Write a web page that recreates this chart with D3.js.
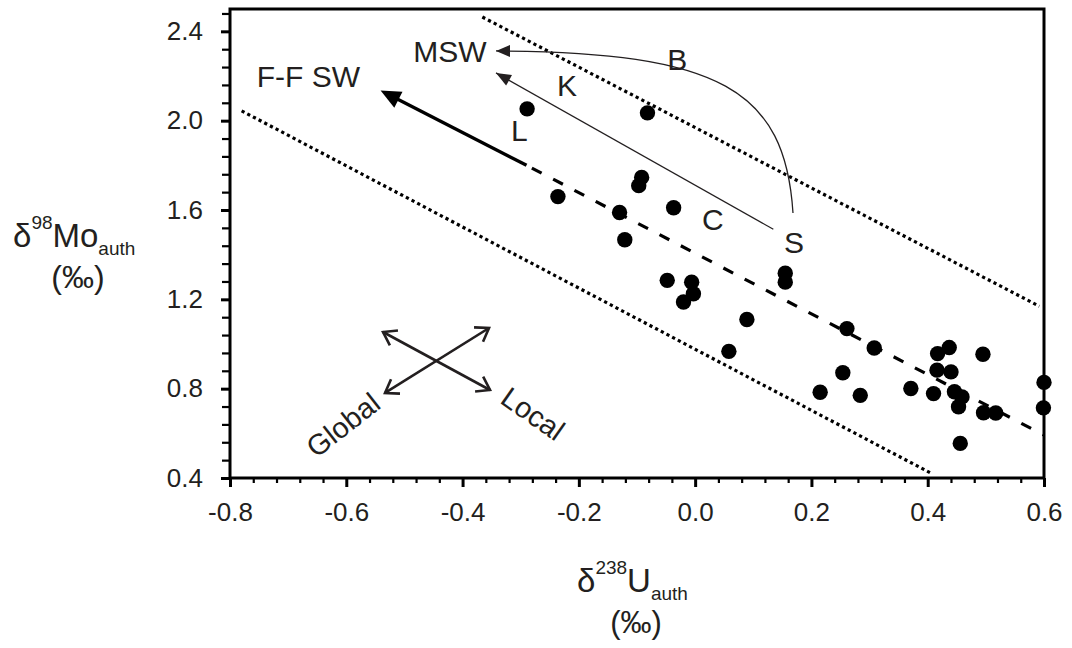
<!DOCTYPE html>
<html><head><meta charset="utf-8">
<script src="https://cdn.jsdelivr.net/npm/d3@7"></script>
<style>
body{margin:0;background:#fff}
svg text{font-family:"Liberation Sans",Arial,sans-serif;fill:#231f20}
</style>
</head><body>
<svg id="chart" width="1072" height="648"></svg>
<script>
// ---- data ----
const uAuth  = [-0.289,-0.082,-0.092,-0.097,-0.236,-0.037,-0.130,-0.121,-0.048,-0.006,-0.003,-0.020,
                0.155,0.155,0.089,0.058,0.261,0.308,0.254,0.215,0.284,0.371,0.410,0.417,0.437,0.416,
                0.440,0.446,0.459,0.453,0.495,0.496,0.517,0.456,0.600,0.599];
const moAuth = [2.053,2.035,1.746,1.709,1.660,1.610,1.589,1.467,1.285,1.277,1.225,1.188,
                1.317,1.277,1.110,0.967,1.069,0.982,0.871,0.784,0.770,0.801,0.778,0.957,0.984,0.883,
                0.875,0.786,0.763,0.719,0.954,0.692,0.691,0.555,0.828,0.714];
const xTicks = [-0.8,-0.6,-0.4,-0.2,0.0,0.2,0.4,0.6];
const xTickLabels = ["-0.8","-0.6","-0.4","-0.2","0.0","0.2","0.4","0.6"];
const yTicks = [0.4,0.8,1.2,1.6,2.0,2.4];
const yTickLabels = ["0.4","0.8","1.2","1.6","2.0","2.4"];
// trend (dashed) and F-F SW arrow
const trendU = [-0.29, 0.60];
const trendMo = [1.80, 0.592];
const ffswU = [-0.29, -0.541];
const ffswMo = [1.80, 2.135];
// bounding dotted lines
const upperU = [-0.366, 0.592];
const upperMo = [2.464, 1.169];
const lowerU = [-0.78, 0.406];
const lowerMo = [2.044, 0.421];
// K arrow (S -> K)
const kU = [0.1345, -0.3425];
const kMo = [1.5137, 2.2137];
// B curve (S -> MSW), cubic bezier control points
const bU = [0.1683, 0.1546, 0.0428, -0.3425];
const bMo = [1.5868, 2.1376, 2.3078, 2.3122];
// Global / Local double arrows
const globalU = [-0.5334, -0.3545];
const globalMo = [0.7807, 1.0717];
const localU = [-0.5368, -0.3528];
const localMo = [1.0538, 0.7941];
// annotation labels
const labelText = ["F-F SW","MSW","B","K","L","C","S"];
const labelU = [-0.754,-0.485,-0.048,-0.2376,-0.3167,0.0118,0.1529];
const labelMo = [2.150,2.263,2.227,2.111,1.909,1.511,1.4076];

// ---- scales ----
const svg = d3.select("#chart");
const x = d3.scaleLinear().domain([-0.8,0.6]).range([230,1044]);
const y = d3.scaleLinear().domain([0.4,2.5]).range([478,9]);
const ink = "#000";

// minor ticks
const xMinor = d3.range(0,36).map(i=>+(-0.8+i*0.04).toFixed(2)).filter(v=>!xTicks.some(t=>Math.abs(t-v)<1e-6));
const yMinor = d3.range(0,27).map(i=>+(0.4+i*0.08).toFixed(2)).filter(v=>v<=2.5 && !yTicks.some(t=>Math.abs(t-v)<1e-6));

const gxMinor = svg.append("g").attr("transform","translate(0,478)")
  .call(d3.axisBottom(x).tickValues(xMinor).tickSize(5).tickFormat(""));
const gx = svg.append("g").attr("transform","translate(0,478)")
  .call(d3.axisBottom(x).tickValues(xTicks).tickSize(9).tickPadding(16).tickFormat((d,i)=>xTickLabels[i]));
const gyMinor = svg.append("g").attr("transform","translate(230,0)")
  .call(d3.axisLeft(y).tickValues(yMinor).tickSize(8).tickFormat(""));
const gy = svg.append("g").attr("transform","translate(230,0)")
  .call(d3.axisLeft(y).tickValues(yTicks).tickSize(9).tickPadding(18).tickFormat((d,i)=>yTickLabels[i]));
[gx,gy,gxMinor,gyMinor].forEach(g=>{g.select(".domain").remove();});
[gxMinor,gyMinor].forEach(g=>g.selectAll(".tick line").attr("stroke",ink).attr("stroke-width",2.2));
[gx,gy].forEach(g=>{
  g.selectAll(".tick line").attr("stroke",ink).attr("stroke-width",3);
  g.selectAll(".tick text").attr("font-size",26).attr("fill","#231f20")
    .attr("font-family","'Liberation Sans',Arial,sans-serif");
});

// frame
svg.append("rect").attr("x",x(-0.8)).attr("y",y(2.5))
  .attr("width",x(0.6)-x(-0.8)).attr("height",y(0.4)-y(2.5))
  .attr("fill","none").attr("stroke",ink).attr("stroke-width",3);

const line = d3.line().x(d=>x(d[0])).y(d=>y(d[1]));

// dotted bounds
svg.append("path").datum(d3.zip(upperU,upperMo)).attr("d",line)
  .attr("stroke",ink).attr("stroke-width",3.2).attr("stroke-dasharray","3.2,3.2").attr("fill","none");
svg.append("path").datum(d3.zip(lowerU,lowerMo)).attr("d",line)
  .attr("stroke",ink).attr("stroke-width",3.2).attr("stroke-dasharray","3.2,3.2").attr("fill","none");

// dashed trend
svg.append("path").datum(d3.zip(trendU,trendMo)).attr("d",line)
  .attr("stroke",ink).attr("stroke-width",3.2).attr("stroke-dasharray","0,6,11,7").attr("fill","none");

// helpers
function headPoly(tip, from, len, w){
  const dx = tip[0]-from[0], dy = tip[1]-from[1], L = Math.hypot(dx,dy);
  const ux = dx/L, uy = dy/L, px = -uy, py = ux;
  const bx = tip[0]-ux*len, by = tip[1]-uy*len;
  return [tip,[bx+px*w/2,by+py*w/2],[bx-px*w/2,by-py*w/2]];
}
function chevron(tip, from, len, ang){
  const a = Math.atan2(from[1]-tip[1], from[0]-tip[0]);
  const p1 = [tip[0]+len*Math.cos(a+ang), tip[1]+len*Math.sin(a+ang)];
  const p2 = [tip[0]+len*Math.cos(a-ang), tip[1]+len*Math.sin(a-ang)];
  return "M"+p1+"L"+tip+"L"+p2;
}
const px = (u,m)=>[x(u),y(m)];

// F-F SW thick arrow
{
  const a = px(ffswU[0],ffswMo[0]), t = px(ffswU[1],ffswMo[1]);
  const hp = headPoly(t,a,20,18);
  const L = Math.hypot(t[0]-a[0],t[1]-a[1]);
  const e = [t[0]-(t[0]-a[0])/L*16, t[1]-(t[1]-a[1])/L*16];
  svg.append("path").attr("d","M"+a+"L"+e).attr("stroke",ink).attr("stroke-width",3.4).attr("fill","none");
  svg.append("polygon").attr("points",hp.map(p=>p.join(",")).join(" ")).attr("fill",ink);
}
// K arrow
{
  const a = px(kU[0],kMo[0]), t = px(kU[1],kMo[1]);
  svg.append("path").attr("d","M"+a+"L"+t).attr("stroke","#231f20").attr("stroke-width",1.3).attr("fill","none");
  svg.append("polygon").attr("points",headPoly(t,a,15,12).map(p=>p.join(",")).join(" ")).attr("fill","#231f20");
}
// B curve
{
  const P = d3.zip(bU,bMo).map(d=>px(d[0],d[1]));
  svg.append("path").attr("d","M"+P[0]+"C"+P[1]+" "+P[2]+" "+P[3])
    .attr("stroke","#231f20").attr("stroke-width",1.3).attr("fill","none");
  svg.append("polygon").attr("points",headPoly(P[3],P[2],14,12).map(p=>p.join(",")).join(" ")).attr("fill","#231f20");
}
// Global / Local double arrows
[[globalU,globalMo],[localU,localMo]].forEach(([us,ms])=>{
  const a = px(us[0],ms[0]), b = px(us[1],ms[1]);
  svg.append("path").attr("d","M"+a+"L"+b).attr("stroke","#231f20").attr("stroke-width",2.6).attr("fill","none");
  svg.append("path").attr("d",chevron(a,b,15,0.6)).attr("stroke","#231f20").attr("stroke-width",2.6).attr("fill","none");
  svg.append("path").attr("d",chevron(b,a,15,0.6)).attr("stroke","#231f20").attr("stroke-width",2.6).attr("fill","none");
});

// points
svg.append("g").selectAll("circle").data(d3.zip(uAuth,moAuth)).join("circle")
  .attr("cx",d=>x(d[0])).attr("cy",d=>y(d[1])).attr("r",7.7).attr("fill",ink);

// annotation labels
svg.append("g").selectAll("text").data(labelText).join("text")
  .attr("x",(d,i)=>x(labelU[i])).attr("y",(d,i)=>y(labelMo[i]))
  .attr("font-size",30).text(d=>d);

// Global / Local rotated labels
svg.append("text").attr("transform",`translate(${x(-0.6056)},${y(0.637)}) rotate(-38)`)
  .attr("text-anchor","middle").attr("dominant-baseline","central").attr("font-size",29).text("Global");
svg.append("text").attr("transform",`translate(${x(-0.279)},${y(0.687)}) rotate(35)`)
  .attr("text-anchor","middle").attr("dominant-baseline","central").attr("font-size",29).text("Local");

// axis titles
const yt = svg.append("text").attr("x",13).attr("y",247).attr("font-size",33);
yt.append("tspan").text("δ");
yt.append("tspan").attr("font-size",19).attr("dy",-18).text("98");
yt.append("tspan").attr("dy",18).text("Mo");
yt.append("tspan").attr("font-size",19).attr("dy",8).text("auth");
svg.append("text").attr("x",78).attr("y",288).attr("text-anchor","middle").attr("font-size",32).text("(‰)");

const xt = svg.append("text").attr("x",577).attr("y",592).attr("font-size",33);
xt.append("tspan").text("δ");
xt.append("tspan").attr("font-size",19).attr("dy",-18).text("238");
xt.append("tspan").attr("dy",18).text("U");
xt.append("tspan").attr("font-size",19).attr("dy",8).text("auth");
svg.append("text").attr("x",636).attr("y",633).attr("text-anchor","middle").attr("font-size",31).text("(‰)");
</script>
</body></html>
